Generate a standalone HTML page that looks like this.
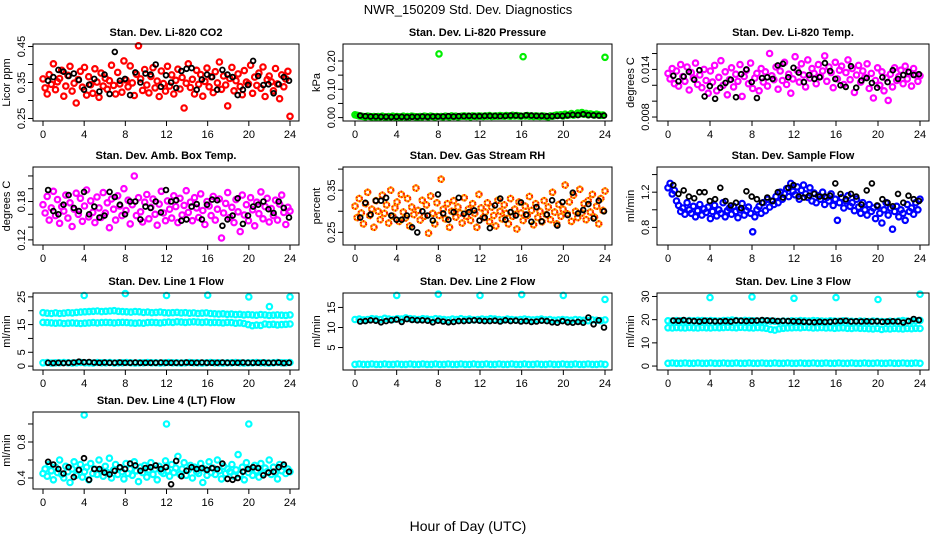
<!DOCTYPE html>
<html><head><meta charset="utf-8"><style>
html,body{margin:0;padding:0;background:#fff}
svg{display:block;font-family:"Liberation Sans",sans-serif}
</style></head><body>
<svg id="c" width="936" height="540" viewBox="0 0 936 540" xmlns="http://www.w3.org/2000/svg">
<text x="468" y="14" font-size="13" text-anchor="middle">NWR_150209  Std. Dev. Diagnostics</text>
<text x="468" y="531" font-size="14" text-anchor="middle">Hour of Day (UTC)</text>
</svg>
<script>
const xTicks=[0,4,8,12,16,20,24];
const co2=[360,335,318,372,345,402,330,352,361,384,312,340,370,395,326,348,293,358,381,337,392,315,366,344,320,388,351,309,376,340,362,331,355,398,342,318,378,346,323,410,357,338,396,349,314,373,452,360,328,386,343,321,367,391,335,354,311,382,347,326,395,340,371,318,356,387,332,364,279,348,402,336,359,318,384,345,372,312,353,390,338,366,322,380,349,407,331,368,343,285,361,392,327,355,374,339,316,383,351,346,398,320,365,342,376,334,393,311,358,368,352,327,389,346,305,371,338,360,381,256];
const co2Blk=[355,365,385,380,368,375,357,330,344,360,325,372,318,435,355,360,315,378,350,375,372,400,338,370,350,335,382,388,390,330,358,372,365,330,385,372,365,315,330,343,410,368,343,345,320,345,365,355];
const pres=[10,8,6,5,4,3,5,4,3,4,2,4,3,5,3,2,4,3,5,3,4,3,2,5,3,4,3,5,4,3,2,4,3,5,4,3,5,4,3,4,225,4,3,5,4,3,6,4,5,3,4,5,6,4,5,3,6,5,4,6,5,4,6,5,7,4,5,6,5,7,6,5,7,6,5,8,6,7,6,5,215,6,7,5,6,4,6,5,4,6,5,4,3,6,5,7,9,8,10,6,12,8,10,14,9,11,16,13,18,12,15,10,13,11,9,12,10,8,9,213];
const presBlk=[7,5,4,4,3,3,2,3,3,2,3,3,4,3,4,4,4,5,4,5,5,6,5,5,6,6,6,5,6,7,7,6,8,7,6,6,5,5,6,6,8,10,9,12,9,8,7,7];
const temp=[135,128,141,122,138,119,146,131,125,143,114,136,129,148,121,133,117,140,126,110,138,124,145,113,130,151,120,137,108,127,142,118,134,125,146,106,131,139,122,148,116,129,135,113,141,124,137,119,160,132,127,143,115,138,126,149,121,134,110,128,156,139,124,147,133,118,152,129,141,135,122,146,131,138,157,125,143,136,117,149,128,139,144,121,136,152,127,141,111,133,145,124,138,130,147,116,135,104,126,142,120,137,113,129,101,134,118,142,126,131,139,122,144,128,136,119,141,133,125,132];
const tempBlk=[132,125,131,137,127,139,106,119,103,117,123,127,105,134,140,124,104,129,130,128,145,147,130,142,136,124,133,128,130,148,138,128,120,118,144,117,126,129,123,117,130,124,139,128,133,137,133,134];
const amb=[175,162,188,151,170,196,158,183,146,172,165,190,154,178,141,168,193,160,185,149,173,198,156,181,163,147,187,170,155,194,162,178,139,184,168,151,189,173,158,200,166,182,145,175,220,158,186,164,148,179,191,153,171,184,160,143,176,196,162,150,181,168,154,189,172,147,185,159,174,197,163,179,150,186,170,155,192,166,144,180,173,158,188,151,168,184,123,162,177,194,155,171,147,183,164,133,190,159,175,150,186,167,142,179,161,195,153,172,185,148,169,158,182,151,176,190,163,144,171,165];
const ambBlk=[198,165,160,175,190,170,165,195,160,172,155,158,195,187,175,160,180,180,152,172,170,180,163,198,180,182,150,152,172,176,152,175,183,182,142,152,158,185,145,158,172,175,180,168,162,180,170,155];
const rh=[312,285,330,296,270,318,345,290,305,262,325,300,280,338,295,315,272,350,288,308,322,276,340,298,284,330,265,310,292,355,302,279,326,288,315,248,336,295,270,320,290,376,305,282,318,262,300,325,286,310,296,272,332,288,305,278,318,295,262,340,308,285,298,320,275,310,290,265,326,300,282,315,295,270,330,288,305,258,322,296,278,312,290,335,302,268,318,285,300,275,325,292,310,280,345,298,270,316,288,305,362,294,322,276,338,300,285,352,296,318,280,325,298,340,286,312,270,330,302,348];
const rhBlk=[285,320,292,325,325,332,290,280,280,290,262,250,300,290,278,340,295,280,298,332,294,298,302,278,285,260,314,330,280,298,290,321,292,275,310,276,292,326,266,322,291,344,295,303,317,283,325,300];
const flow=[125,130,118,122,110,105,98,102,95,108,100,96,104,92,99,106,94,101,97,103,90,98,105,93,100,96,108,92,99,102,95,104,98,91,100,107,94,99,103,96,75,92,100,104,96,108,99,112,103,110,106,115,108,120,112,118,124,115,130,121,117,126,112,122,128,118,114,125,110,119,108,116,112,120,106,114,110,118,105,112,88,108,114,102,110,116,104,108,99,112,103,96,108,100,94,106,98,102,90,104,96,85,100,108,94,102,78,98,104,92,100,96,88,106,98,102,95,108,100,112];
const flowBlk=[128,118,122,115,113,120,120,110,112,125,110,105,108,102,121,115,112,108,114,110,120,114,125,128,115,114,116,118,115,115,116,130,118,112,118,115,106,122,130,105,112,108,104,118,108,116,112,110];
const l1Up=[193,191,190,192,190,191,193,192,194,195,196,197,198,199,197,198,199,200,198,197,196,195,197,196,194,195,193,194,195,193,192,193,194,192,193,191,192,190,191,192,190,189,188,189,187,188,186,187,185,186,185,184,186,185,183,184,185,184,183,185];
const l1Lo=[158,157,156,155,156,154,155,156,155,154,155,156,157,156,157,158,157,156,157,158,157,156,155,156,155,157,158,157,156,158,159,158,160,159,158,159,160,159,158,159,157,158,157,156,158,157,155,156,154,150,146,148,147,152,150,151,149,150,151,152];
const l1Bot=[12,13,11,12,12,13,12,11,12,13,12,12,11,13,12,12,13,11,12,12,13,12,11,12,12,13,12,12,11,12,13,12,12,11,12,13,12,12,11,12,13,12,12,11,12,12,13,12,11,12,12,13,12,12,11,12,13,12,12,13];
const l1Out=[[4,25.5],[8,26.2],[12,25.5],[16,25.6],[20,25],[22,21.5],[24,25]];
const l1Blk=[12,11,12,11,12,13,16,14,15,13,12,13,12,12,13,12,12,13,12,12,12,12,13,12,12,12,12,13,12,12,13,12,12,12,13,12,12,12,13,12,12,12,13,12,12,13,11,12];
const l2Up=[120,121,119,120,122,121,120,123,121,120,122,121,124,122,121,120,122,121,120,122,121,120,119,121,120,122,120,121,119,120,121,120,122,121,120,119,121,120,119,120,121,120,119,120,121,119,120,118,119,120,119,118,120,119,118,117,119,118,117,119];
const l2Bot=[8,9,8,8,9,8,8,9,8,8,9,8,8,9,8,8,9,8,8,9,8,8,9,8,8,9,8,8,9,8,8,9,8,8,9,8,8,9,8,8,9,8,8,9,8,8,9,8,8,9,8,8,9,8,8,9,8,8,9,8];
const l2Out=[[4,18],[8,18.3],[12,18],[16,18.2],[20,18],[24,17]];
const l2Blk=[115,116,118,117,113,116,118,120,114,121,119,118,118,117,113,117,115,113,114,116,116,117,118,117,116,116,117,115,118,116,117,115,116,114,115,117,116,113,112,116,113,112,114,112,125,108,118,100];
const l3Up=[195,194,196,195,194,196,195,197,196,195,196,195,194,196,197,198,196,195,197,196,195,194,193,195,194,193,192,194,193,195,194,196,195,194,196,195,194,193,195,194,193,195,194,193,192,194,193,192,194,193,192,191,193,192,194,196,194,193,195,197];
const l3Mid=[165,164,166,165,164,166,165,164,166,165,164,166,165,166,167,166,165,167,166,165,164,166,165,163,158,155,160,163,164,165,166,165,167,166,164,165,166,164,165,163,164,165,163,162,164,163,162,161,160,162,158,161,160,162,161,160,162,161,163,162];
const l3Bot=[12,13,12,12,13,12,12,13,12,12,13,12,12,13,12,12,13,12,12,13,12,12,13,12,12,13,12,12,13,12,12,13,12,12,13,12,12,13,12,12,13,12,12,13,12,12,13,12,12,13,12,12,13,12,12,13,12,12,13,12];
const l3Out=[[4,29.5],[8,29.8],[12,29.2],[16,29.5],[20,28.7],[24,31]];
const l3Blk=[196,195,198,195,194,192,195,194,193,193,194,192,196,195,194,195,196,198,197,196,194,195,194,193,192,191,190,189,191,190,191,193,194,195,192,193,192,193,192,193,191,192,193,192,188,194,203,198];
const l4=[45,50,42,55,48,38,52,46,60,44,40,53,47,35,50,58,43,49,55,41,47,52,38,56,45,50,44,60,48,42,53,46,62,40,49,55,44,51,47,39,56,45,50,43,58,48,36,52,46,54,41,49,57,44,50,38,53,47,45,59,48,42,55,46,51,64,44,50,57,43,49,54,40,52,47,45,56,35,50,43,58,46,51,44,60,48,39,53,45,50,47,55,42,49,66,44,52,38,57,46,50,43,54,48,41,56,45,51,47,60,44,52,46,39,55,48,53,45,50,47];
const l4Out=[[4,1.1],[12,1.0],[20,1.0]];
const l4Blk=[58,55,50,45,52,41,49,62,38,50,50,46,44,48,52,50,56,54,48,51,52,54,50,52,33,59,42,48,52,50,51,49,51,50,56,39,38,40,47,50,52,51,43,46,47,52,55,47];

const NS="http://www.w3.org/2000/svg";
const svg=document.getElementById('c');
const cols=[{l:33,r:299,x0:43,x24:290},{l:343,r:612,x0:355,x24:605},{l:657,r:929,x0:668,x24:920}];
const rows=[{t:44,b:121},{t:167,b:245},{t:293,b:370},{t:412,b:489}];
function mk(tag,attrs,parent){const e=document.createElementNS(NS,tag);for(const k in attrs)e.setAttribute(k,attrs[k]);(parent||svg).appendChild(e);return e;}
const panels=[
 {c:0,r:0,title:"Stan. Dev. Li-820 CO2",yl:"Licor ppm",d:[0.243,0.457],ticks:[0.25,0.30,0.35,0.40,0.45],labs:["0.25","","0.35","","0.45"],col:"#ff0000",sets:[[co2,0.001]],blk:[co2Blk,0.001]},
 {c:1,r:0,title:"Stan. Dev. Li-820 Pressure",yl:"kPa",d:[-0.012,0.26],ticks:[0,0.05,0.10,0.15,0.20],labs:["0.00","","0.10","","0.20"],col:"#00ee00",sets:[[pres,0.001]],blk:[presBlk,0.001]},
 {c:2,r:0,title:"Stan. Dev. Li-820 Temp.",yl:"degrees C",d:[0.0075,0.0172],ticks:[0.008,0.010,0.012,0.014,0.016],labs:["0.008","","","0.014",""],col:"#ff00ff",sets:[[temp,0.0001]],blk:[tempBlk,0.0001]},
 {c:0,r:1,title:"Stan. Dev. Amb. Box Temp.",yl:"degrees C",d:[0.112,0.234],ticks:[0.12,0.14,0.16,0.18,0.20,0.22],labs:["0.12","","","0.18","",""],col:"#ff00ff",sets:[[amb,0.001]],blk:[ambBlk,0.001]},
 {c:1,r:1,title:"Stan. Dev. Gas Stream RH",yl:"percent",d:[0.22,0.405],ticks:[0.25,0.30,0.35,0.40],labs:["0.25","","0.35",""],col:"#ffa500",rh:true,sets:[[rh,0.001]],blk:[rhBlk,0.001]},
 {c:2,r:1,title:"Stan. Dev. Sample Flow",yl:"ml/min",d:[0.60,1.486],ticks:[0.8,1.0,1.2,1.4],labs:["0.8","","1.2",""],col:"#0000ff",sets:[[flow,0.01]],blk:[flowBlk,0.01]},
 {c:0,r:2,title:"Stan. Dev. Line 1 Flow",yl:"ml/min",d:[-1.4,26.4],ticks:[0,5,10,15,20,25],labs:["0","5","","15","","25"],col:"#00ffff",sets:[[l1Up,0.1],[l1Lo,0.1],[l1Bot,0.1]],out:l1Out,blk:[l1Blk,0.1]},
 {c:1,r:2,title:"Stan. Dev. Line 2 Flow",yl:"ml/min",d:[-0.6,18.6],ticks:[5,10,15],labs:["5","10","15"],col:"#00ffff",sets:[[l2Up,0.1],[l2Bot,0.1]],out:l2Out,blk:[l2Blk,0.1]},
 {c:2,r:2,title:"Stan. Dev. Line 3 Flow",yl:"ml/min",d:[-1.7,31.5],ticks:[0,10,20,30],labs:["0","10","20","30"],col:"#00ffff",sets:[[l3Up,0.1],[l3Mid,0.1],[l3Bot,0.1]],out:l3Out,blk:[l3Blk,0.1]},
 {c:0,r:3,title:"Stan. Dev. Line 4 (LT) Flow",yl:"ml/min",d:[0.278,1.133],ticks:[0.4,0.6,0.8,1.0],labs:["0.4","","0.8",""],col:"#00ffff",sets:[[l4,0.01]],out:l4Out,blk:[l4Blk,0.01]}
];
panels.forEach((p,pi)=>{
 const C=cols[p.c],R=rows[p.r];
 const g=mk('g',{});
 
 
 const xs=v=>C.x0+(C.x24-C.x0)*v/24;
 const ys=v=>R.b-(v-p.d[0])/(p.d[1]-p.d[0])*(R.b-R.t);
 const t=mk('text',{x:(C.l+C.r)/2,y:R.t-8,'font-size':11,'font-weight':'bold','text-anchor':'middle'},g);t.textContent=p.title;
 
 
 const yl=mk('text',{transform:`translate(${C.l-23},${(R.t+R.b)/2}) rotate(-90)`,'font-size':11,'text-anchor':'middle'},g);yl.textContent=p.yl;
 
 
 const pts=mk('g',{fill:'none','stroke-width':2.2},g);
 
 
 const drawPt=(x,y,col,parent)=>{const e=mk('circle',{cx:xs(x).toFixed(1),cy:ys(y).toFixed(1),r:2.7,stroke:col},parent);
  
  
  if(p.rh){const e2=mk('circle',{cx:xs(x).toFixed(1),cy:ys(y).toFixed(1),r:2.7,stroke:'#ff0000','stroke-dasharray':'1 2'},parent);
   
   }
 };
 p.sets.forEach(([arr,sc])=>{const n=arr.length;arr.forEach((v,i)=>drawPt(i*24/(n-1),v*sc,p.col,pts));});
 if(p.out)p.out.forEach(([x,y])=>drawPt(x,y,p.col,pts));
 const bg=mk('g',{fill:'none','stroke-width':1.8},g);
 
 
 const [ba,bs]=p.blk;const bn=ba.length;
 ba.forEach((v,i)=>{const e=mk('circle',{cx:xs(0.5+i*23.4/(bn-1)).toFixed(1),cy:ys(v*bs).toFixed(1),r:2.4,stroke:'#000'},bg);
  
  });
 const bx=mk('rect',{x:C.l,y:R.t,width:C.r-C.l,height:R.b-R.t,fill:'none',stroke:'#000','stroke-width':1},g);
 
 
 xTicks.forEach(v=>{const x=xs(v);mk('line',{x1:x,x2:x,y1:R.b,y2:R.b+5,stroke:'#000'},g);
  const tl=mk('text',{x:x,y:R.b+17,'font-size':11,'text-anchor':'middle'},g);tl.textContent=v;
  
  });
 p.ticks.forEach((v,i)=>{const y=ys(v);mk('line',{x1:C.l-5,x2:C.l,y1:y,y2:y,stroke:'#000'},g);
  if(p.labs[i]){const tl=mk('text',{transform:`translate(${C.l-8},${y}) rotate(-90)`,'font-size':11,'text-anchor':'middle'},g);tl.textContent=p.labs[i];
  
  }});
});
</script>
</body></html>
